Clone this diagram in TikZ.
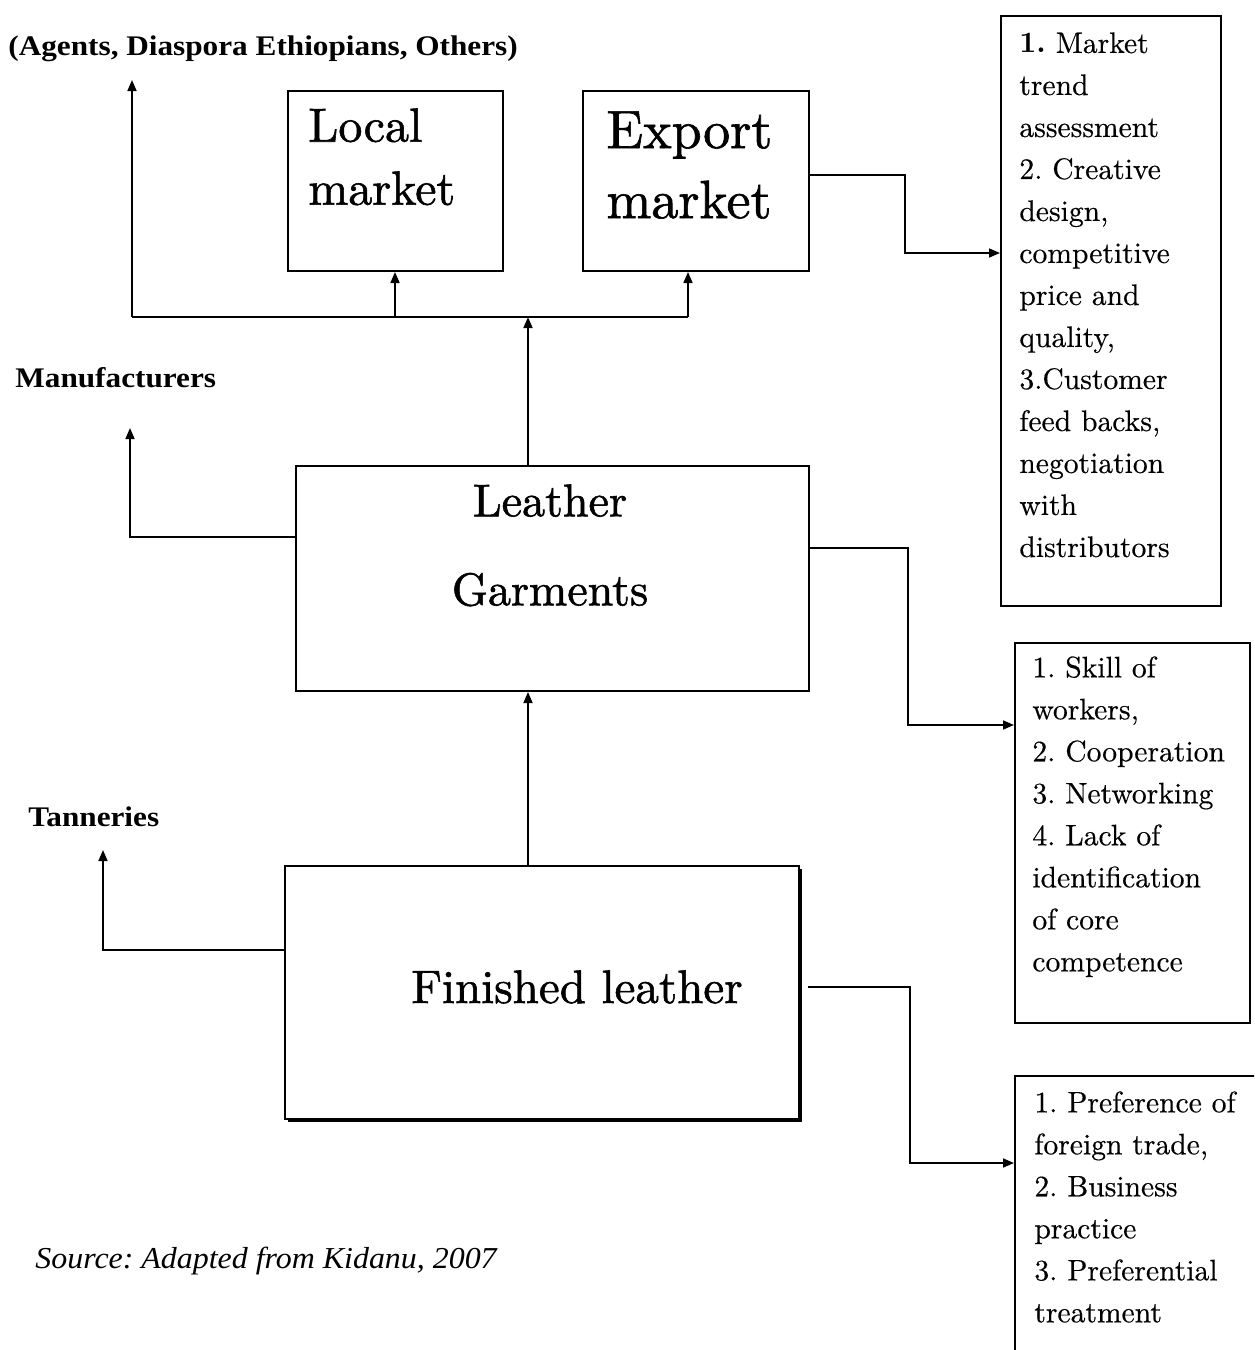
\documentclass[tikz,border=0pt]{standalone}
\usepackage{fontspec}
\newfontfamily\labfont{Liberation Serif}[FakeStretch=1.1]
\newfontfamily\srcfont{Liberation Serif Italic}[FakeStretch=1.05]
\newfontfamily\headfont{lmroman10-regular.otf}[FakeBold=1.2]
\newfontfamily\listfont{lmroman10-regular.otf}[FakeBold=0.4, BoldFont=lmroman10-bold.otf, BoldFeatures={FakeBold=0}]
\usetikzlibrary{arrows.meta,shadows}
\tikzset{
  box/.style={draw, line width=1pt, anchor=north west, inner sep=0pt},
  conn/.style={line width=0.8pt},
  arr/.style={line width=0.8pt, -{Triangle[length=5.5pt,width=4.5pt]}},
  lab/.style={font=\labfont\bfseries\fontsize{14.2}{17}\selectfont, anchor=base west, inner sep=0pt},
  head/.style={inner sep=0pt, align=left, anchor=north west},
  listtxt/.style={inner sep=0pt, align=left, anchor=north west, font=\listfont\fontsize{14.8}{21}\selectfont}
}
\frenchspacing
\begin{document}
\begin{tikzpicture}[x=0.5pt,y=-0.5pt]
\clip (0,0) rectangle (1254,1350);
\fill[white] (0,0) rectangle (1254,1350);

% main boxes
\node[box, minimum width=107.5pt, minimum height=90pt] (lm) at (287,90) {};
\node[box, minimum width=113pt, minimum height=90pt] (ex) at (582,90) {};
\node[box, minimum width=256.5pt, minimum height=112.5pt] (lg) at (295,465) {};
\node[box, fill=white, minimum width=257pt, minimum height=126.5pt,
      drop shadow={fill=black, opacity=1, shadow xshift=1.3pt, shadow yshift=-1.3pt}] (fl) at (284,865) {};

% right boxes
\node[box, minimum width=110pt, minimum height=295pt] (b1) at (1000,15) {};
\node[box, minimum width=117.5pt, minimum height=190pt] (b2) at (1014,642) {};
\node[box, minimum width=128pt, minimum height=162.5pt] (b3) at (1014,1075) {};

% box texts
\node[head, font=\headfont\fontsize{24}{31.5}\selectfont] (lmt) at (308,108) {Local\\market};
\node[head, font=\headfont\fontsize{27}{35}\selectfont] (ext) at (606,111) {Export\\market};
\node[inner sep=0pt, align=center, anchor=north, font=\headfont\fontsize{23}{44.5}\selectfont] (lgt) at (550,484) {Leather\\Garments};
\node[inner sep=0pt, anchor=base, font=\headfont\fontsize{23.5}{28}\selectfont] (flt) at (577,1003) {Finished leather};

\node[listtxt] (b1t) at (1019,32) {\textbf{1.} Market\\trend\\assessment\\2. Creative\\design,\\competitive\\price and\\quality,\\3.Customer\\feed backs,\\negotiation\\with\\distributors};
\node[listtxt] (b2t) at (1032,656) {1. Skill of\\workers,\\2. Cooperation\\3. Networking\\4. Lack of\\identification\\of core\\competence};
\node[listtxt] (b3t) at (1034,1091) {1. Preference of\\foreign trade,\\2. Business\\practice\\3. Preferential\\treatment};

% labels
\node[lab] (ag) at (8,55) {(Agents, Diaspora Ethiopians, Others)};
\node[lab] (mf) at (15,387) {Manufacturers};
\node[lab] (tn) at (28,826) {Tanneries};
\node[inner sep=0pt, anchor=base west, font=\srcfont\fontsize{15.2}{17}\selectfont] (src) at (35,1268) {Source: Adapted from Kidanu, 2007};

% coordinates
\coordinate (j0) at (528,317);
\coordinate (jl) at (132,317);
\coordinate (jm) at (395,317);
\coordinate (jr) at (688,317);
\coordinate (a1) at (132,80);
\coordinate (m0) at (130,537);
\coordinate (m1) at (130,428);
\coordinate (t0) at (103,950);
\coordinate (t1) at (103,850);
\coordinate (k1t) at (905,175);
\coordinate (k1) at (905,253);
\coordinate (k2t) at (908,548);
\coordinate (k2) at (908,725);
\coordinate (k3t) at (910,987);
\coordinate (k3) at (910,1163);

% top distribution
\draw[conn] (jl) -- (jr);
\draw[arr] (jl) -- (a1);
\draw[arr] (jm) -- (jm |- lm.south);
\draw[arr] (jr) -- (jr |- ex.south);
\draw[arr] (lg.north -| j0) -- (j0);
\draw[arr] (fl.north -| j0) -- (lg.south -| j0);

% left arrows
\draw[arr] (lg.west |- m0) -- (m0) -- (m1);
\draw[arr] (fl.west |- t0) -- (t0) -- (t1);

% right connectors
\draw[arr] (ex.east |- k1t) -- (k1t) -- (k1) -- (k1 -| b1.west);
\draw[arr] (lg.east |- k2t) -- (k2t) -- (k2) -- (k2 -| b2.west);
\draw[arr] ([xshift=4pt]fl.east |- k3t) -- (k3t) -- (k3) -- (k3 -| b3.west);
\end{tikzpicture}
\end{document}
